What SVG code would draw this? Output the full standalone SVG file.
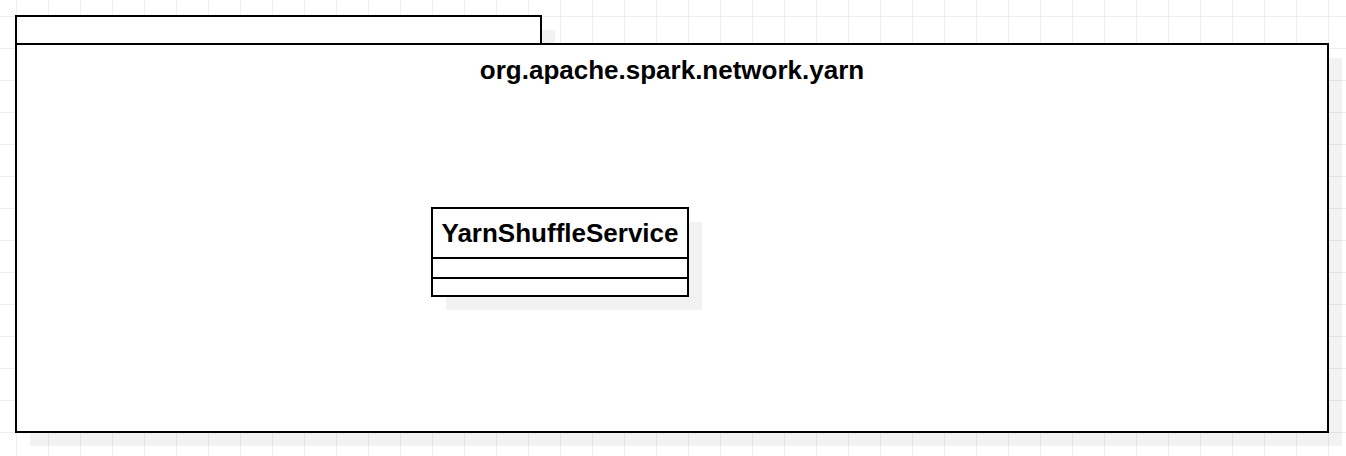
<svg xmlns="http://www.w3.org/2000/svg" width="1346" height="456" viewBox="0 0 1346 456">
  <style>
    .frame { fill: #ffffff; stroke: #000000; stroke-width: 2; }
    .shadow { fill: #000000; fill-opacity: 0.05; }
    .label { font-family: "Liberation Sans", Arial, sans-serif; font-weight: bold; font-size: 26px; fill: #000000; text-anchor: middle; }
  </style>
  <defs>
    <pattern id="grid" x="0" y="0" width="32" height="32" patternUnits="userSpaceOnUse">
      <rect x="16" y="0" width="1" height="32" fill="#eeeeee"/>
      <rect x="0" y="16" width="32" height="1" fill="#eeeeee"/>
    </pattern>
  </defs>
  <rect x="0" y="0" width="1346" height="456" fill="#ffffff"/>
  <rect x="0" y="0" width="1346" height="456" fill="url(#grid)"/>

  <g id="package-org-apache-spark-network-yarn">
    <rect class="shadow" x="30" y="30" width="525" height="28"/>
    <rect class="shadow" x="30" y="58" width="1312" height="388"/>
    <rect class="frame" x="16" y="16" width="525" height="28"/>
    <rect class="frame" x="16" y="44" width="1312" height="388"/>
    <text class="label" x="672" y="79">org.apache.spark.network.yarn</text>
  </g>

  <g id="class-YarnShuffleService">
    <rect class="shadow" x="446" y="222" width="256" height="88"/>
    <rect class="frame" x="432" y="208" width="256" height="88"/>
    <line x1="432" y1="258" x2="688" y2="258" stroke="#000000" stroke-width="2"/>
    <line x1="432" y1="278" x2="688" y2="278" stroke="#000000" stroke-width="2"/>
    <text class="label" x="560" y="242">YarnShuffleService</text>
  </g>

  <g id="connectors"></g>
</svg>
